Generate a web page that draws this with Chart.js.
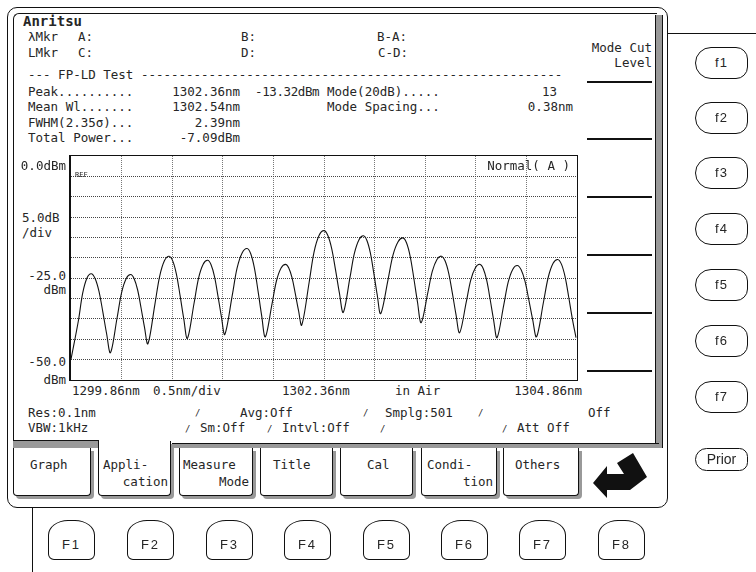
<!DOCTYPE html>
<html>
<head>
<meta charset="utf-8">
<script src="https://cdn.jsdelivr.net/npm/chart.js@4.4.1/dist/chart.umd.min.js"></script>
<style>
  body { margin: 0; background: #fff; }
  #screen { position: relative; width: 756px; height: 572px; overflow: hidden; background: #fff;
    font-family: "DejaVu Sans Mono", "Liberation Mono", monospace; font-size: 12.5px; color: #262626; }
  .t { position: absolute; line-height: 16px; white-space: pre; }
  .r { transform: translateX(-100%); }
  .box { position: absolute; box-sizing: border-box; }
  .sk { position: absolute; left: 587px; width: 65px; height: 2px; background: #111; }
  .fk { position: absolute; left: 695px; width: 53px; height: 32px; box-sizing: border-box; border: 1px solid #111;
    border-radius: 16px 12px 12px 16px; font-family: "Liberation Sans", sans-serif; font-size: 13px;
    text-align: center; line-height: 30px; letter-spacing: 1px; background: #fff; }
  .Fk { position: absolute; top: 520px; width: 47px; height: 40px; box-sizing: border-box; border: 1px solid #111;
    border-radius: 20px 20px 6px 6px / 15px 15px 6px 6px; font-family: "Liberation Sans", sans-serif; font-size: 13px;
    text-align: center; line-height: 48px; letter-spacing: 2px; background: #fff; }
  .tab { position: absolute; top: 448px; height: 48px; box-sizing: border-box; border: 1px solid #111; border-top: none;
    border-radius: 0 0 4px 4px; box-shadow: 3px 3px 0 #999; background: #fff; }
  .slash { font-size: 9px; }
</style>
</head>
<body>
<div id="screen">
  <!-- instrument frame -->
  <div class="box" style="left:7px;top:7px;width:661px;height:501px;border:1px solid #111;border-radius:10px;"></div>
  <div class="box" style="left:13px;top:13px;width:644px;height:430px;border-top:1px solid #111;border-left:1px solid #111;border-top-left-radius:6px;"></div>
  <div class="box" style="left:655px;top:15px;width:8px;height:433px;background:#999;border-left:1px solid #111;border-right:1px solid #111;"></div>
  <div class="box" style="left:667px;top:33px;width:89px;height:1px;background:#111;"></div>
  <div class="box" style="left:32px;top:508px;width:1px;height:64px;background:#111;"></div>

  <!-- header text -->
  <div class="t" style="left:23px;top:13px;font-weight:bold;font-size:14px;">Anritsu</div>
  <div class="t" style="left:28px;top:29px;">λMkr</div>
  <div class="t" style="left:78px;top:29px;">A:</div>
  <div class="t" style="left:241px;top:29px;">B:</div>
  <div class="t" style="left:377px;top:29px;">B-A:</div>
  <div class="t" style="left:28px;top:45px;">LMkr</div>
  <div class="t" style="left:78px;top:45px;">C:</div>
  <div class="t" style="left:241px;top:45px;">D:</div>
  <div class="t" style="left:378px;top:45px;">C-D:</div>
  <div class="t" style="left:28px;top:67px;">--- FP-LD Test --------------------------------------------------------</div>

  <div class="t" style="left:28px;top:84px;">Peak..........</div>
  <div class="t r" style="left:240px;top:84px;">1302.36nm</div>
  <div class="t" style="left:255px;top:84px;letter-spacing:-0.4px;">-13.32dBm</div>
  <div class="t" style="left:327px;top:84px;">Mode(20dB).....</div>
  <div class="t r" style="left:557px;top:84px;">13</div>
  <div class="t" style="left:28px;top:99px;">Mean Wl.......</div>
  <div class="t r" style="left:240px;top:99px;">1302.54nm</div>
  <div class="t" style="left:327px;top:99px;">Mode Spacing...</div>
  <div class="t r" style="left:573px;top:99px;">0.38nm</div>
  <div class="t" style="left:28px;top:115px;">FWHM(2.35σ)...</div>
  <div class="t r" style="left:240px;top:115px;">2.39nm</div>
  <div class="t" style="left:28px;top:130px;">Total Power...</div>
  <div class="t r" style="left:240px;top:130px;">-7.09dBm</div>

  <!-- soft key column -->
  <div class="t r" style="left:652px;top:40px;">Mode Cut</div>
  <div class="t r" style="left:652px;top:55px;">Level</div>
  <div class="sk" style="top:81px;"></div>
  <div class="sk" style="top:138px;"></div>
  <div class="sk" style="top:196px;"></div>
  <div class="sk" style="top:254px;"></div>
  <div class="sk" style="top:312px;"></div>
  <div class="sk" style="top:370px;"></div>

  <!-- plot -->
  <div class="box" style="left:69px;top:155px;width:509px;height:226px;border:1px solid #111;border-left-width:2px;"></div>
  <canvas id="spectrum" width="506" height="224" style="position:absolute;left:71px;top:156px;"></canvas>
  <div class="t" style="left:75px;top:171px;font-size:7px;line-height:8px;">REF</div>
  <div class="t r" style="left:570px;top:158px;">Normal( A )</div>
  <div class="t r" style="left:66px;top:158px;">0.0dBm</div>
  <div class="t" style="left:22px;top:210px;">5.0dB</div>
  <div class="t" style="left:22px;top:225px;">/div</div>
  <div class="t r" style="left:66px;top:268px;">-25.0</div>
  <div class="t r" style="left:66px;top:282px;">dBm</div>
  <div class="t r" style="left:66px;top:354px;">-50.0</div>
  <div class="t r" style="left:66px;top:372px;">dBm</div>
  <div class="t" style="left:72px;top:383px;">1299.86nm</div>
  <div class="t" style="left:153px;top:383px;">0.5nm/div</div>
  <div class="t" style="left:282px;top:383px;">1302.36nm</div>
  <div class="t" style="left:395px;top:383px;">in Air</div>
  <div class="t r" style="left:582px;top:383px;">1304.86nm</div>

  <!-- status rows -->
  <div class="t" style="left:28px;top:405px;">Res:0.1nm</div>
  <div class="t slash" style="left:195px;top:405px;">/</div>
  <div class="t" style="left:240px;top:405px;">Avg:Off</div>
  <div class="t slash" style="left:363px;top:405px;">/</div>
  <div class="t" style="left:385px;top:405px;">Smplg:501</div>
  <div class="t slash" style="left:478px;top:405px;">/</div>
  <div class="t" style="left:588px;top:405px;">Off</div>
  <div class="t" style="left:28px;top:420px;">VBW:1kHz</div>
  <div class="t slash" style="left:185px;top:421px;">/</div>
  <div class="t" style="left:200px;top:420px;">Sm:Off</div>
  <div class="t slash" style="left:267px;top:421px;">/</div>
  <div class="t" style="left:282px;top:420px;">Intvl:Off</div>
  <div class="t slash" style="left:380px;top:421px;">/</div>
  <div class="t slash" style="left:502px;top:421px;">/</div>
  <div class="t" style="left:517px;top:420px;">Att Off</div>

  <!-- tab row -->
  <div class="box" style="left:13px;top:440px;width:86px;height:8px;background:#999;border-top:1px solid #111;"></div>
  <div class="box" style="left:172px;top:443px;width:487px;height:5px;background:#999;border-top:1px solid #111;"></div>
  <div class="tab" style="left:13px;width:78px;"></div>
  <div class="tab" style="left:98px;top:441px;height:55px;width:73px;"></div>
  <div class="tab" style="left:179px;width:74px;"></div>
  <div class="tab" style="left:260px;width:73px;"></div>
  <div class="tab" style="left:340px;width:73px;"></div>
  <div class="tab" style="left:421px;width:76px;"></div>
  <div class="tab" style="left:503px;width:76px;"></div>
  <div class="t" style="left:30px;top:457px;">Graph</div>
  <div class="t" style="left:103px;top:457px;">Appli-</div>
  <div class="t r" style="left:168px;top:474px;">cation</div>
  <div class="t" style="left:183px;top:457px;">Measure</div>
  <div class="t r" style="left:249px;top:474px;">Mode</div>
  <div class="t" style="left:273px;top:457px;">Title</div>
  <div class="t" style="left:367px;top:457px;">Cal</div>
  <div class="t" style="left:427px;top:457px;">Condi-</div>
  <div class="t r" style="left:493px;top:474px;">tion</div>
  <div class="t" style="left:515px;top:457px;">Others</div>
  <svg style="position:absolute;left:0;top:0;" width="756" height="572">
    <polygon points="593,483 607,466 607,474 624,474 617,463 633,453 647,477 630,490 607,490 607,498" fill="#111"/>
  </svg>

  <!-- side keys -->
  <div class="fk" style="top:47px;">f1</div>
  <div class="fk" style="top:102px;">f2</div>
  <div class="fk" style="top:157px;">f3</div>
  <div class="fk" style="top:213px;">f4</div>
  <div class="fk" style="top:269px;">f5</div>
  <div class="fk" style="top:325px;">f6</div>
  <div class="fk" style="top:381px;">f7</div>
  <div class="fk" style="top:448px;height:23px;line-height:21px;letter-spacing:0;font-size:14px;">Prior</div>

  <!-- bottom keys -->
  <div class="Fk" style="left:48px;">F1</div>
  <div class="Fk" style="left:127px;">F2</div>
  <div class="Fk" style="left:206px;">F3</div>
  <div class="Fk" style="left:284px;">F4</div>
  <div class="Fk" style="left:363px;">F5</div>
  <div class="Fk" style="left:441px;">F6</div>
  <div class="Fk" style="left:519px;">F7</div>
  <div class="Fk" style="left:598px;">F8</div>
</div>

<script>
// trace: wavelength (nm) and level (dBm)
const wavelength = [
  1299.86, 1299.933, 1299.975, 1300.018, 1300.06, 1300.098, 1300.136, 1300.174, 1300.212, 1300.25,
  1300.316, 1300.36, 1300.406, 1300.45, 1300.484, 1300.518, 1300.552, 1300.586, 1300.62,
  1300.689, 1300.736, 1300.784, 1300.83, 1300.866, 1300.902, 1300.938, 1300.974, 1301.01,
  1301.076, 1301.12, 1301.166, 1301.21, 1301.244, 1301.278, 1301.312, 1301.346, 1301.38,
  1301.453, 1301.501, 1301.552, 1301.6, 1301.636, 1301.672, 1301.708, 1301.744, 1301.78,
  1301.846, 1301.89, 1301.936, 1301.98, 1302.012, 1302.044, 1302.076, 1302.108, 1302.14,
  1302.213, 1302.261, 1302.312, 1302.36, 1302.398, 1302.436, 1302.474, 1302.512, 1302.55,
  1302.616, 1302.66, 1302.706, 1302.75, 1302.784, 1302.818, 1302.852, 1302.886, 1302.92,
  1302.993, 1303.041, 1303.092, 1303.14, 1303.176, 1303.212, 1303.248, 1303.284, 1303.32,
  1303.386, 1303.43, 1303.476, 1303.52, 1303.556, 1303.592, 1303.628, 1303.664, 1303.7,
  1303.766, 1303.81, 1303.856, 1303.9, 1303.934, 1303.968, 1304.002, 1304.036, 1304.07,
  1304.136, 1304.18, 1304.226, 1304.27, 1304.308, 1304.346, 1304.384, 1304.422, 1304.46,
  1304.529, 1304.576, 1304.624, 1304.67, 1304.706, 1304.742, 1304.778, 1304.814, 1304.85
];
const power = [
  -44.9, -35.45, -28.73, -24.95, -23.9, -25.06, -28.17, -33.21, -38.64, -43.3,
  -34.66, -28.52, -25.06, -24.1, -25.12, -27.84, -32.26, -37.02, -41.1,
  -31.42, -24.54, -20.67, -19.6, -20.81, -24.04, -29.3, -34.95, -39.8,
  -31.16, -25.02, -21.56, -20.6, -21.69, -24.6, -29.34, -34.43, -38.8,
  -29.3, -22.55, -18.75, -17.7, -19.0, -22.47, -28.12, -34.19, -39.4,
  -31.39, -25.69, -22.49, -21.6, -22.49, -24.88, -28.75, -32.92, -36.5,
  -26.06, -18.64, -14.46, -13.32, -14.53, -17.74, -22.97, -28.6, -33.4,
  -24.94, -18.92, -15.54, -14.6, -15.75, -18.8, -23.77, -29.12, -33.7,
  -25.33, -19.38, -16.03, -15.1, -16.35, -19.68, -25.08, -30.91, -35.9,
  -28.56, -23.35, -20.41, -19.6, -20.73, -23.74, -28.62, -33.89, -38.4,
  -30.84, -25.46, -22.44, -21.6, -22.68, -25.56, -30.24, -35.28, -39.6,
  -31.63, -25.97, -22.78, -21.9, -22.95, -25.75, -30.3, -35.2, -39.4,
  -30.85, -24.77, -21.35, -20.4, -21.55, -24.62, -29.62, -35.0, -39.6
];
const xTicks = [1299.86, 1300.36, 1300.86, 1301.36, 1301.86, 1302.36, 1302.86, 1303.36, 1303.86, 1304.36, 1304.86];
const yTicks = [-50, -45, -40, -35, -30, -25, -20, -15, -10, -5, 0, 5];

const gridColor = (edges, col) => (c) => (edges.includes(c.tick.value) ? "rgba(0,0,0,0)" : col);

new Chart(document.getElementById("spectrum"), {
  type: "line",
  data: {
    datasets: [
      {
        data: wavelength.map((w, i) => ({ x: w, y: power[i] })),
        borderColor: "#111",
        borderWidth: 1.1,
        pointRadius: 0,
        tension: 0.35,
      },
    ],
  },
  options: {
    responsive: false,
    animation: false,
    layout: { padding: 0 },
    plugins: { legend: { display: false }, tooltip: { enabled: false } },
    scales: {
      x: {
        type: "linear",
        min: xTicks[0],
        max: xTicks[xTicks.length - 1],
        afterBuildTicks: (axis) => {
          axis.ticks = xTicks.map((v) => ({ value: v }));
        },
        ticks: { display: false },
        grid: { drawTicks: false, color: gridColor([xTicks[0], xTicks[xTicks.length - 1]], "#777") },
        border: { display: false, dash: [1, 1] },
      },
      y: {
        min: yTicks[0],
        max: yTicks[yTicks.length - 1],
        afterBuildTicks: (axis) => {
          axis.ticks = yTicks.map((v) => ({ value: v }));
        },
        ticks: { display: false },
        grid: { drawTicks: false, color: gridColor([yTicks[0], yTicks[yTicks.length - 1]], "#444") },
        border: { display: false, dash: [1, 1] },
      },
    },
  },
});
</script>
</body>
</html>
